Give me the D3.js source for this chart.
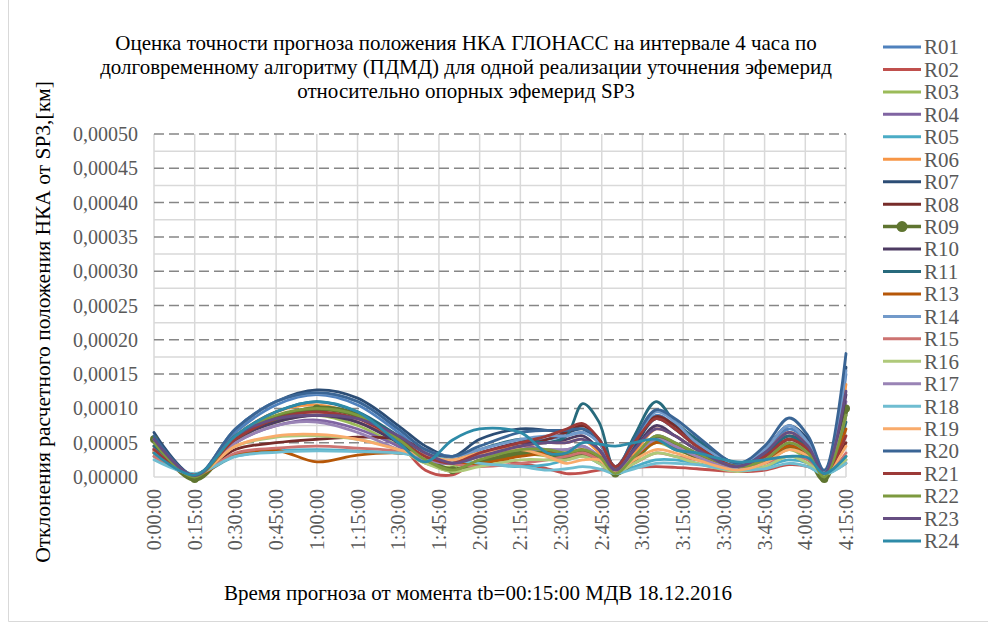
<!DOCTYPE html>
<html>
<head>
<meta charset="utf-8">
<script type="text/javascript" src="https://cdn.jsdelivr.net/npm/d3@7"></script>
<title>ГЛОНАСС ПДМД</title>
<style>
body { margin: 0; background: #fff; }
text { font-family: "Liberation Serif", "Times New Roman", serif; }
</style>
</head>
<body>
<div id="viz"></div>
<script type="text/javascript">

// time of prognosis, minutes from start
var minutes = [0, 15, 30, 45, 60, 75, 90, 100, 110, 120, 135, 145, 152, 158, 164, 170, 177, 185, 192, 200, 215, 225, 234, 241, 247, 255];
var tickMinutes = [0, 15, 30, 45, 60, 75, 90, 105, 120, 135, 150, 165, 180, 195, 210, 225, 240, 255];
var tickLabels = ["0:00:00", "0:15:00", "0:30:00", "0:45:00", "1:00:00", "1:15:00", "1:30:00", "1:45:00", "2:00:00",
                  "2:15:00", "2:30:00", "2:45:00", "3:00:00", "3:15:00", "3:30:00", "3:45:00", "4:00:00", "4:15:00"];
var yTicks = [0, 0.00005, 0.0001, 0.00015, 0.0002, 0.00025, 0.0003, 0.00035, 0.0004, 0.00045, 0.0005];

// deviations, in units of 1e-5 km
var UNIT = 1e-5;
var r01 = [4.5, 0.2, 6.5, 10.5, 12.0, 10.5, 6.5, 3.5, 2.5, 3.5, 5.0, 5.5, 6.0, 6.5, 5.0, 1.5, 4.5, 9.0, 7.5, 5.0, 1.8, 3.5, 7.0, 5.0, 0.8, 15.0];
var r02 = [3.5, 0.2, 5.5, 8.5, 9.5, 8.0, 5.0, 1.0, 0.3, 2.5, 2.0, 1.2, 0.5, 0.6, 1.0, 1.2, 1.4, 1.5, 1.4, 1.2, 0.8, 1.0, 1.8, 1.5, 0.5, 2.0];
var r03 = [4.0, 0.3, 5.5, 8.0, 9.0, 7.5, 4.5, 2.0, 1.5, 3.0, 3.5, 3.0, 2.5, 3.5, 2.5, 0.8, 2.5, 5.0, 4.0, 3.0, 1.0, 2.0, 4.0, 2.5, 0.3, 3.0];
var r04 = [4.2, 0.3, 5.0, 7.5, 8.3, 7.0, 4.5, 2.5, 2.0, 3.5, 4.5, 4.0, 4.0, 4.5, 3.0, 1.0, 3.0, 6.0, 5.0, 3.5, 1.5, 3.0, 5.5, 4.0, 0.6, 11.0];
var r05 = [3.0, 0.4, 3.0, 3.8, 4.0, 3.8, 3.5, 3.0, 2.5, 2.0, 1.5, 1.8, 2.5, 3.0, 2.0, 0.6, 1.5, 2.5, 2.5, 2.0, 1.0, 1.5, 2.5, 2.0, 0.4, 2.5];
var r06 = [4.5, 0.3, 6.0, 9.5, 10.5, 9.0, 5.5, 3.0, 2.0, 3.5, 4.5, 5.0, 5.0, 5.5, 3.5, 1.0, 3.5, 7.0, 6.0, 4.0, 1.5, 3.5, 6.5, 4.5, 0.6, 13.5];
var r07 = [6.5, 0.2, 7.0, 11.0, 12.7, 11.5, 7.5, 4.5, 3.0, 5.5, 7.0, 6.8, 6.5, 7.0, 5.0, 1.5, 4.5, 8.5, 7.0, 4.5, 1.8, 4.0, 7.5, 5.5, 0.8, 16.0];
var r08 = [3.8, 0.3, 4.0, 5.0, 5.5, 5.8, 5.5, 4.0, 2.5, 3.0, 4.5, 5.5, 6.5, 7.5, 5.5, 1.5, 5.0, 8.8, 7.5, 5.0, 1.5, 3.0, 5.5, 4.0, 0.5, 5.0];
var r09 = [5.5, -0.3, 5.5, 8.5, 10.0, 9.0, 5.5, 2.5, 1.0, 2.0, 3.5, 3.5, 3.0, 3.5, 2.5, 0.5, 2.5, 5.5, 4.5, 3.0, 1.5, 2.5, 4.5, 3.0, -0.3, 10.0];
var r10 = [5.0, 0.3, 5.5, 8.0, 9.0, 8.0, 5.0, 3.0, 2.0, 3.5, 5.0, 5.0, 5.5, 6.0, 4.0, 1.0, 4.0, 7.5, 6.0, 4.0, 1.5, 3.5, 6.0, 4.5, 0.5, 12.0];
var r11 = [4.5, 0.3, 6.0, 9.5, 11.0, 9.5, 6.0, 3.5, 2.5, 4.0, 5.5, 5.0, 6.0, 10.7, 8.0, 1.0, 6.0, 11.0, 8.0, 5.5, 2.0, 3.5, 6.0, 4.0, 0.5, 8.0];
var r13 = [3.5, 0.3, 3.2, 3.9, 2.2, 3.2, 3.5, 3.0, 2.0, 2.0, 3.0, 3.5, 3.5, 4.0, 3.0, 1.0, 3.0, 5.0, 4.5, 3.0, 1.5, 2.5, 4.5, 3.5, 0.5, 7.0];
var r14 = [5.5, 0.2, 7.0, 11.0, 12.2, 11.0, 7.0, 4.0, 3.0, 4.0, 5.5, 6.0, 6.0, 6.5, 5.0, 1.5, 5.0, 9.5, 8.0, 5.0, 2.0, 4.0, 7.5, 5.0, 0.8, 15.5];
var r15 = [3.0, 0.3, 3.5, 4.2, 4.5, 4.2, 3.8, 3.2, 2.0, 1.5, 2.0, 2.5, 3.0, 3.5, 2.5, 0.8, 2.0, 3.5, 3.0, 2.5, 1.2, 2.0, 3.0, 2.5, 0.4, 3.5];
var r16 = [3.5, 0.3, 4.5, 5.8, 6.0, 5.5, 4.0, 2.0, 0.8, 1.5, 2.5, 2.5, 2.5, 3.0, 2.0, 0.6, 2.0, 3.5, 3.0, 2.0, 0.8, 1.5, 3.0, 2.0, 0.3, 2.5];
var r17 = [4.0, 0.3, 5.0, 7.5, 8.0, 6.5, 4.0, 2.5, 2.0, 3.0, 4.0, 4.0, 4.0, 4.5, 3.0, 0.8, 3.0, 5.5, 4.5, 3.0, 1.2, 2.5, 5.0, 3.5, 0.5, 9.0];
var r18 = [2.5, 0.5, 3.0, 3.6, 3.8, 3.7, 3.5, 3.0, 2.5, 2.0, 1.5, 1.0, 1.2, 1.5, 1.2, 0.5, 1.2, 2.0, 2.0, 1.8, 1.0, 1.2, 2.0, 1.5, 0.4, 2.0];
var r19 = [3.8, 0.3, 4.5, 6.0, 6.2, 5.5, 4.0, 3.0, 2.5, 3.5, 4.0, 3.0, 2.0, 2.5, 2.5, 0.8, 2.5, 4.0, 3.5, 2.5, 1.0, 2.0, 4.0, 3.0, 0.5, 4.5];
var r20 = [6.0, 0.2, 7.0, 11.0, 12.3, 11.0, 7.0, 4.0, 3.0, 4.5, 6.5, 6.8, 6.8, 7.0, 5.5, 1.5, 5.5, 9.8, 8.5, 6.0, 2.0, 4.5, 8.6, 6.0, 1.0, 18.0];
var r21 = [4.0, 0.3, 5.5, 8.5, 9.5, 8.5, 5.5, 3.0, 2.0, 3.5, 5.0, 6.0, 7.0, 7.8, 5.5, 1.5, 5.0, 8.5, 7.0, 4.5, 1.5, 3.0, 5.5, 4.0, 0.5, 6.0];
var r22 = [5.0, 0.0, 6.0, 9.0, 10.0, 9.0, 5.5, 2.5, 1.0, 2.5, 4.0, 4.0, 3.5, 4.0, 3.0, 0.5, 3.0, 6.0, 5.0, 3.5, 1.5, 2.5, 5.0, 3.5, 0.0, 9.0];
var r23 = [5.5, 0.2, 6.0, 8.5, 9.0, 8.5, 6.0, 3.5, 2.0, 3.0, 4.5, 5.0, 5.0, 5.5, 4.0, 1.0, 4.0, 7.0, 6.0, 4.0, 1.5, 3.5, 6.5, 4.5, 0.5, 12.5];
var r24 = [3.5, 0.3, 6.0, 9.5, 11.0, 9.5, 5.0, 2.2, 5.4, 7.0, 6.5, 3.5, 3.5, 5.0, 4.8, 4.5, 5.0, 5.5, 4.0, 3.5, 2.2, 2.5, 3.0, 2.8, 0.5, 3.0];

var seriesNames = ["R01", "R02", "R03", "R04", "R05", "R06", "R07", "R08", "R09", "R10", "R11", "R13",
                   "R14", "R15", "R16", "R17", "R18", "R19", "R20", "R21", "R22", "R23", "R24"];
var seriesData = [r01, r02, r03, r04, r05, r06, r07, r08, r09, r10, r11, r13,
                  r14, r15, r16, r17, r18, r19, r20, r21, r22, r23, r24];
var colors = ["#4F81BD", "#C0504D", "#9BBB59", "#8064A2", "#4BACC6", "#F79646", "#2C4D75", "#772C2A", "#5F7530",
              "#4D3B62", "#276A7C", "#B65708", "#729ACA", "#CD7371", "#AFC97A", "#9983B5", "#6FBDD1", "#F9AB6B",
              "#3A6595", "#9C3A38", "#7D9A3F", "#664E82", "#2E8BA8"];

var W = 988, H = 630;
var svg = d3.select("#viz").append("svg").attr("width", W).attr("height", H);

// chart area frame
svg.append("path").attr("d", "M8.5,0V621.5H988")
    .attr("fill", "none").attr("stroke", "#d9d9d9");

var x = d3.scaleLinear().domain([0, 255]).range([154, 846]);
var y = d3.scaleLinear().domain([0, 0.0005]).range([477, 134]);
var fmt = function(v){ return d3.format(".5f")(v).replace(".", ","); };

var grid = svg.append("g");
// minor horizontal lines
grid.selectAll("line.minor")
    .data(d3.range(0, 10).map(function(i){ return 0.000025 + i * 0.00005; }))
    .enter().append("line")
    .attr("x1", x(0)).attr("x2", x(255))
    .attr("y1", function(d){ return y(d); }).attr("y2", function(d){ return y(d); })
    .attr("stroke", "#d9d9d9").attr("stroke-width", 1.5);
// vertical lines
grid.selectAll("line.vert")
    .data(tickMinutes)
    .enter().append("line")
    .attr("x1", function(d){ return x(d); }).attr("x2", function(d){ return x(d); })
    .attr("y1", y(0.0005)).attr("y2", y(0))
    .attr("stroke", "#d9d9d9").attr("stroke-width", 1.5);
// major dashed lines
grid.selectAll("line.major")
    .data(yTicks.slice(1))
    .enter().append("line")
    .attr("x1", x(0)).attr("x2", x(255))
    .attr("y1", function(d){ return y(d); }).attr("y2", function(d){ return y(d); })
    .attr("stroke", "#868686").attr("stroke-width", 1.5).attr("stroke-dasharray", "10,5");
// bottom axis line
grid.append("line")
    .attr("x1", x(0)).attr("x2", x(255)).attr("y1", y(0)).attr("y2", y(0))
    .attr("stroke", "#d9d9d9").attr("stroke-width", 1.5);

// y tick labels
svg.append("g").selectAll("text")
    .data(yTicks)
    .enter().append("text")
    .attr("x", 138).attr("y", function(d){ return y(d); })
    .attr("dy", "0.35em").attr("text-anchor", "end")
    .attr("font-size", 20).attr("fill", "#595959")
    .text(fmt);

// x tick labels
svg.append("g").selectAll("text")
    .data(tickMinutes)
    .enter().append("text")
    .attr("transform", function(d){ return "translate(" + x(d) + ",489) rotate(-90)"; })
    .attr("dy", "0.35em").attr("text-anchor", "end")
    .attr("font-size", 20).attr("fill", "#595959")
    .text(function(d, i){ return tickLabels[i]; });

// series
var line = d3.line()
    .x(function(d, i){ return x(minutes[i]); })
    .y(function(d){ return y(d * UNIT); })
    .curve(d3.curveCatmullRom.alpha(0.5));

var plot = svg.append("g");
seriesData.forEach(function(vals, k){
    var thick = seriesNames[k] == "R09";
    plot.append("path")
        .datum(vals)
        .attr("d", line)
        .attr("fill", "none")
        .attr("stroke", colors[k])
        .attr("stroke-width", thick ? 5.5 : 2.8)
        .attr("stroke-linejoin", "round").attr("stroke-linecap", "round");
    if (thick) {
        plot.selectAll("circle.m9")
            .data(vals)
            .enter().append("circle")
            .attr("cx", function(d, i){ return x(minutes[i]); })
            .attr("cy", function(d){ return y(d * UNIT); })
            .attr("r", 4)
            .attr("fill", colors[k]);
    }
});

// title
var titleLines = ["Оценка точности прогноза положения НКА ГЛОНАСС на интервале 4 часа по",
                  "долговременному алгоритму (ПДМД) для одной реализации уточнения эфемерид",
                  "относительно опорных эфемерид SP3"];
svg.append("g").selectAll("text")
    .data(titleLines)
    .enter().append("text")
    .attr("x", 466).attr("y", function(d, i){ return 43 + i * 24; })
    .attr("dy", "0.35em").attr("text-anchor", "middle")
    .attr("font-size", 21).attr("fill", "#000")
    .text(function(d){ return d; });

// axis titles
svg.append("text")
    .attr("transform", "translate(42,322) rotate(-90)")
    .attr("dy", "0.35em").attr("text-anchor", "middle")
    .attr("font-size", 21.5).attr("fill", "#000")
    .text("Отклонения расчетного положения НКА от SP3,[км]");
svg.append("text")
    .attr("x", 478).attr("y", 593)
    .attr("dy", "0.35em").attr("text-anchor", "middle")
    .attr("font-size", 21).attr("fill", "#000")
    .text("Время прогноза от момента tb=00:15:00 МДВ 18.12.2016");

// legend
var legend = svg.append("g").selectAll("g")
    .data(seriesNames)
    .enter().append("g")
    .attr("transform", function(d, i){ return "translate(0," + (47 + i * 22.45) + ")"; });
legend.append("line")
    .attr("x1", 883).attr("x2", 921).attr("y1", 0).attr("y2", 0)
    .attr("stroke", function(d, i){ return colors[i]; })
    .attr("stroke-width", function(d){ return d == "R09" ? 3.5 : 3; });
legend.filter(function(d){ return d == "R09"; })
    .append("circle").attr("cx", 902).attr("cy", 0).attr("r", 5.5)
    .attr("fill", colors[8]);
legend.append("text")
    .attr("x", 924).attr("y", 0).attr("dy", "0.35em")
    .attr("font-size", 21).attr("fill", "#595959")
    .text(function(d){ return d; });

</script>
</body>
</html>
